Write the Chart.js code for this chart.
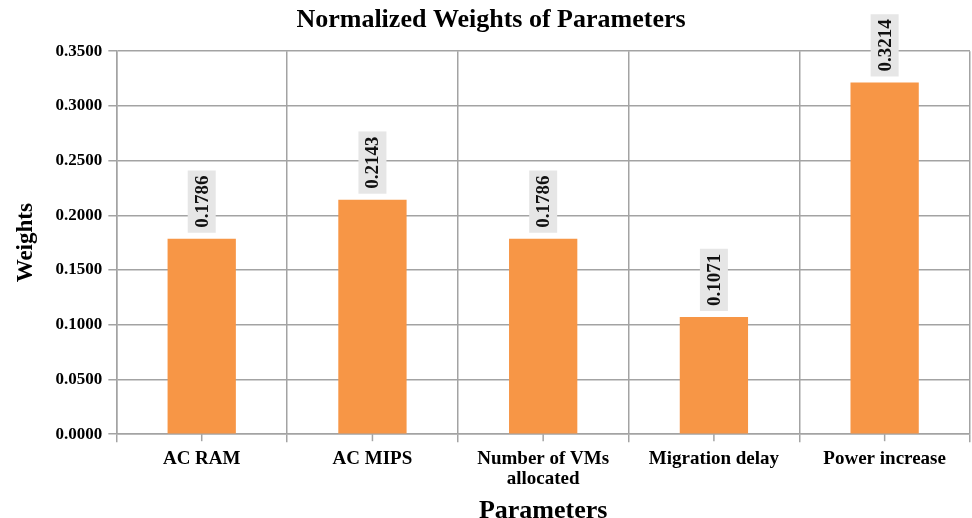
<!DOCTYPE html>
<html>
<head>
<meta charset="utf-8">
<script src="https://cdn.jsdelivr.net/npm/chart.js@4/dist/chart.umd.min.js"></script>
<style>
  html, body { margin: 0; padding: 0; background: #fff; }
  #wrap { width: 972px; height: 518px; }
</style>
</head>
<body>
<div id="wrap"><canvas id="chart" width="972" height="518"></canvas></div>
<script>
var CATEGORIES = ["AC RAM", "AC MIPS", ["Number of VMs", "allocated"], "Migration delay", "Power increase"];
var WEIGHTS = [0.1786, 0.2143, 0.1786, 0.1071, 0.3214];
var Y_TICKS = [0, 0.05, 0.10, 0.15, 0.20, 0.25, 0.30, 0.35];

var FONT = "'Liberation Serif', 'Times New Roman', serif";
var GRID = "#a3a3a3";

// rotated value labels with grey box above each bar, plus centre tick marks
var valueLabels = {
  id: "valueLabels",
  afterDatasetsDraw: function(chart) {
    var ctx = chart.ctx;
    var meta = chart.getDatasetMeta(0);
    ctx.save();
    ctx.font = "bold 19px " + FONT;
    meta.data.forEach(function(bar, i) {
      var txt = WEIGHTS[i].toFixed(4);
      var w = ctx.measureText(txt).width;
      var boxH = w + 10, boxW = 28;
      var bottom = bar.y - 6;
      ctx.fillStyle = "#e6e6e6";
      ctx.fillRect(bar.x - boxW / 2, bottom - boxH, boxW, boxH);
      ctx.save();
      ctx.translate(bar.x, bottom - boxH / 2);
      ctx.rotate(-Math.PI / 2);
      ctx.fillStyle = "#111";
      ctx.textAlign = "center";
      ctx.textBaseline = "middle";
      ctx.fillText(txt, 0, 1);
      ctx.restore();
    });
    // small ticks under the axis at category centres
    var xs = chart.scales.x, y0 = chart.scales.y.getPixelForValue(0);
    ctx.strokeStyle = GRID;
    ctx.lineWidth = 1.5;
    for (var i = 0; i < CATEGORIES.length; i++) {
      var px = xs.getPixelForValue(i);
      ctx.beginPath();
      ctx.moveTo(px, y0);
      ctx.lineTo(px, y0 + 7);
      ctx.stroke();
    }
    ctx.restore();
  }
};

new Chart(document.getElementById("chart"), {
  type: "bar",
  data: {
    labels: CATEGORIES,
    datasets: [{
      label: "Weights",
      data: WEIGHTS,
      backgroundColor: "#f79646",
      categoryPercentage: 1.0,
      barPercentage: 0.4
    }]
  },
  options: {
    responsive: false,
    animation: false,
    layout: { padding: { left: 12, right: 2, top: 0, bottom: -6 } },
    plugins: {
      legend: { display: false },
      tooltip: { enabled: false },
      title: {
        display: true,
        text: "Normalized Weights of Parameters",
        color: "#000",
        font: { family: FONT, size: 26, weight: "bold" },
        padding: { top: 5, bottom: 15 }
      }
    },
    scales: {
      x: {
        grid: { color: GRID, lineWidth: 1.5, tickLength: 8, offset: true },
        border: { color: GRID, width: 1.5 },
        ticks: {
          color: "#000",
          font: { family: FONT, size: 19, weight: "bold", lineHeight: 1.1 },
          maxRotation: 0,
          padding: 6
        },
        title: {
          display: true,
          text: "Parameters",
          color: "#000",
          font: { family: FONT, size: 26, weight: "bold", lineHeight: 1.0 },
          padding: { top: 2, bottom: 0 }
        }
      },
      y: {
        min: 0,
        max: 0.35,
        afterBuildTicks: function(axis) {
          axis.ticks = Y_TICKS.map(function(v) { return { value: v }; });
        },
        grid: { color: GRID, lineWidth: 1.5, tickLength: 8 },
        border: { color: GRID, width: 1.5 },
        ticks: {
          color: "#000",
          font: { family: FONT, size: 17, weight: "bold" },
          padding: 6,
          callback: function(v) { return Number(v).toFixed(4); }
        },
        title: {
          display: true,
          text: "Weights",
          color: "#000",
          font: { family: FONT, size: 23, weight: "bold" },
          padding: { top: 0, bottom: 10 }
        }
      }
    }
  },
  plugins: [valueLabels]
});
</script>
</body>
</html>
